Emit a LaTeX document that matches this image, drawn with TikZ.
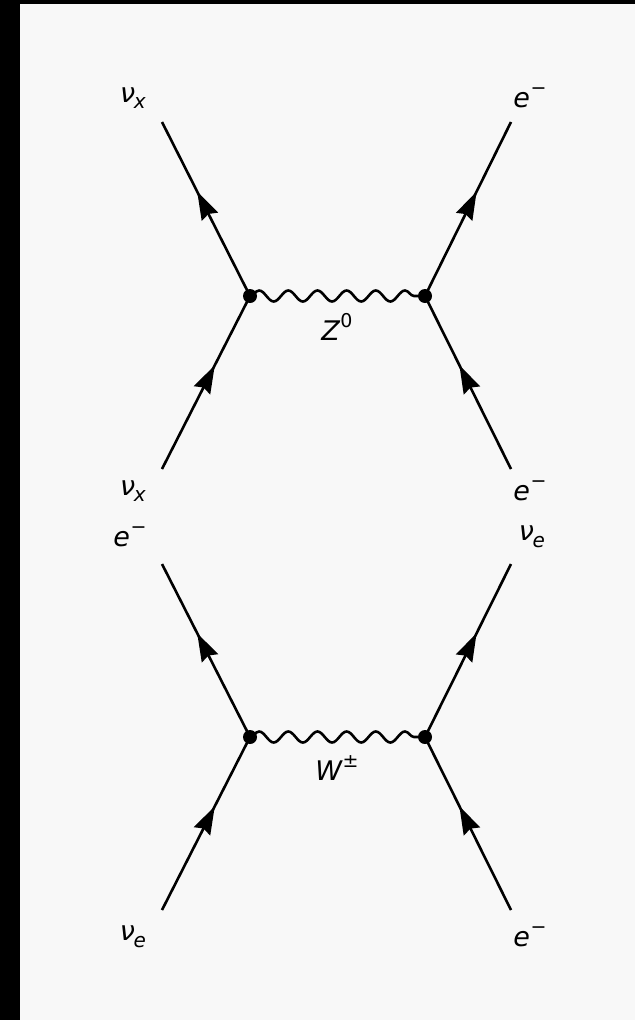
\documentclass[tikz,border=0pt]{standalone}
\usepackage{fontspec}
\setmainfont{DejaVu Sans}
\usetikzlibrary{decorations.pathmorphing,decorations.markings,arrows.meta}
\definecolor{bg}{HTML}{F8F8F8}
\newcommand\plab[3]{\itshape #1\ifx\relax#2\relax\else\kern-0.05em\raisebox{-0.25em}{\fontsize{20}{20}\selectfont\itshape #2}\fi\ifx\relax#3\relax\else\kern0.02em\raisebox{0.5em}{\fontsize{19}{19}\selectfont\upshape #3}\fi}
\begin{document}
\begin{tikzpicture}[x=1pt,y=-1pt,
  fermion/.style={line width=2.6pt,postaction={decorate},
    decoration={markings,mark=at position 0.6 with {\arrow{Stealth[length=28pt,width=18pt,inset=3pt]}}}},
  boson/.style={line width=2.6pt,decorate,decoration={snake,segment length=29.17pt,amplitude=5.5pt}},
  vtx/.style={circle,fill=black,inner sep=0pt,minimum size=14pt},
  lab/.style={font=\fontsize{27}{27}\selectfont,inner sep=0pt}]
\fill[black] (0,0) rectangle (635,1020);
\fill[bg] (20,4) rectangle (635,1020);
\useasboundingbox (0,0) rectangle (635,1020);
% top diagram
\coordinate (a1) at (162,122);
\coordinate (a2) at (162,469);
\coordinate (b1) at (511,122);
\coordinate (b2) at (511,469);
\coordinate (v1) at (250,296);
\coordinate (v2) at (425,296);
\draw[boson] (v1) -- (v2);
\draw[fermion] (v1) -- (a1);
\draw[fermion] (a2) -- (v1);
\draw[fermion] (v2) -- (b1);
\draw[fermion] (b2) -- (v2);
\node[vtx] (d1) at (v1) {};
\node[vtx] (d2) at (v2) {};
\node[lab] (l1) at (133,98) {\plab{ν}{x}{}};
\node[lab] (l2) at (530,98) {\plab{e}{}{−}};
\node[lab] (l3) at (133,491) {\plab{ν}{x}{}};
\node[lab] (l4) at (530,491) {\plab{e}{}{−}};
\node[lab] (z) at (337,327) {\plab{Z}{}{0}};
% bottom diagram
\coordinate (c1) at (162,564);
\coordinate (c2) at (162,910);
\coordinate (e1) at (511,564);
\coordinate (e2) at (511,910);
\coordinate (w1) at (250,737);
\coordinate (w2) at (425,737);
\draw[boson] (w1) -- (w2);
\draw[fermion] (w1) -- (c1);
\draw[fermion] (c2) -- (w1);
\draw[fermion] (w2) -- (e1);
\draw[fermion] (e2) -- (w2);
\node[vtx] (d3) at (w1) {};
\node[vtx] (d4) at (w2) {};
\node[lab] (l5) at (130,537) {\plab{e}{}{−}};
\node[lab] (l6) at (532,537) {\plab{ν}{e}{}};
\node[lab] (l7) at (133,937) {\plab{ν}{e}{}};
\node[lab] (l8) at (530,937) {\plab{e}{}{−}};
\node[lab] (w) at (337,768) {\plab{W}{}{±}};
\end{tikzpicture}
\end{document}
